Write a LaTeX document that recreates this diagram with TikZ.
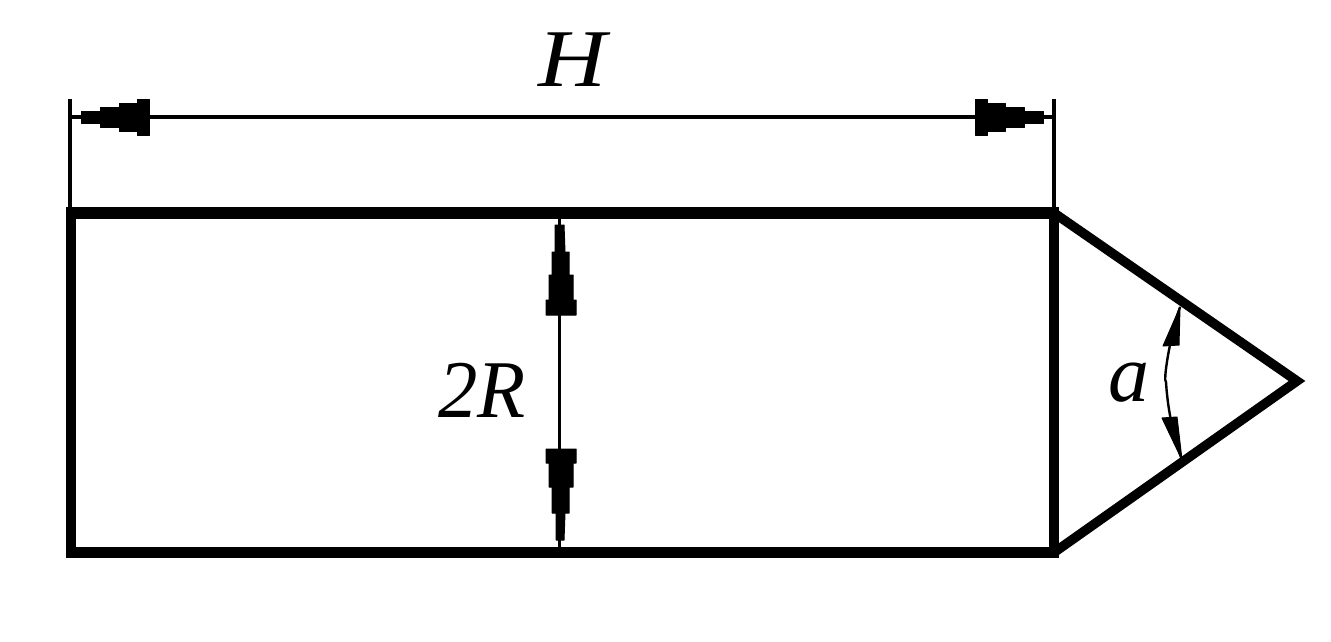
\documentclass[tikz,border=0pt]{standalone}
\usepackage{fontspec}
\setmainfont{Liberation Serif}
\tikzset{
  hbar/.style={draw=black,line width=11.5pt,line cap=butt},
  vbar/.style={draw=black,line width=9.5pt,line cap=butt},
  slant/.style={draw=black,line width=9.5pt,line join=miter},
  thin line/.style={draw=black,line width=3.2pt},
  tip/.style={fill=black,draw=black,line width=1pt,line join=round},
  lab/.style={font=\fontsize{82}{82}\selectfont\itshape,inner sep=0pt,text=black}
}
\begin{document}
\begin{tikzpicture}[x=1pt,y=-1pt]
\useasboundingbox (0,0) rectangle (1331,642);
\fill[white] (0,0) rectangle (1331,642);
\coordinate (tl) at (71,213);
\coordinate (tr) at (1054,213);
\coordinate (br) at (1054,552.5);
\coordinate (bl) at (71,552.5);
\coordinate (tle) at (66,213);
\coordinate (tre) at (1059,213);
\coordinate (ble) at (66,552.5);
\coordinate (bre) at (1059,552.5);
\coordinate (apex) at (1297,381);
\coordinate (el) at (70,99);
\coordinate (er) at (1054,99);
\coordinate (dl) at (70,117);
\coordinate (dr) at (1054,117);
\coordinate (vt) at (559,213);
\coordinate (vb) at (559,552);
\coordinate (at) at (1180,307);
\coordinate (am) at (1166,382);
\coordinate (ab) at (1182,460);
% extension and dimension lines
\draw[thin line] (el) -- (tl -| el);
\draw[thin line] (er) -- (tr);
\draw[thin line] (dl) -- (dr);
\draw[draw=black,line width=3pt] (vt) -- (vb);
\draw[draw=black,line width=2.4pt] (at) .. controls (1169,340) and (1163,382) .. (am) .. controls (1168,415) and (1175,440) .. (ab);
% body
\draw[slant] (tr) -- (apex) -- (br);
\draw[hbar] (tle) -- (tre);
\draw[hbar] (ble) -- (bre);
\draw[vbar] (tl) -- (bl);
\draw[vbar] (tr) -- (br);
% stepped arrowheads, horizontal
\fill[tip] (81,111) -- (100,111) -- (100,107) -- (119,107) -- (119,103) -- (137,103) -- (137,99) -- (149,99)
  -- (149,135) -- (137,135) -- (137,131) -- (119,131) -- (119,127) -- (100,127) -- (100,123) -- (81,123) -- cycle;
\fill[tip] (1043,111) -- (1024,111) -- (1024,107) -- (1005,107) -- (1005,103) -- (987,103) -- (987,99) -- (975,99)
  -- (975,135) -- (987,135) -- (987,131) -- (1005,131) -- (1005,127) -- (1024,127) -- (1024,123) -- (1043,123) -- cycle;
% stepped arrowheads, vertical
\fill[tip] (555,225) -- (564,225) -- (565,252) -- (569,252) -- (569,275) -- (573,275) -- (573,300) -- (576,300) -- (576,315)
  -- (546,315) -- (546,300) -- (549,300) -- (549,275) -- (552,275) -- (552,252) -- (555,252) -- cycle;
\fill[tip] (546,449) -- (576,449) -- (576,463) -- (573,463) -- (573,487) -- (569,487) -- (569,513) -- (565,513) -- (564,540)
  -- (556,540) -- (556,513) -- (552,513) -- (552,487) -- (549,487) -- (549,463) -- (546,463) -- cycle;
% angle arrowheads
\fill[tip] (at) -- (1179,345) -- (1163,346) -- cycle;
\fill[tip] (ab) -- (1177,417) -- (1162,418) -- cycle;
% labels
\node[lab,anchor=base,xscale=1.15] (h) at (572.5,87) {H};
\node[lab,anchor=base east,xscale=0.96] (r) at (526,417) {2R};
\node[lab,anchor=base] (a) at (1129,401) {a};
\end{tikzpicture}
\end{document}
